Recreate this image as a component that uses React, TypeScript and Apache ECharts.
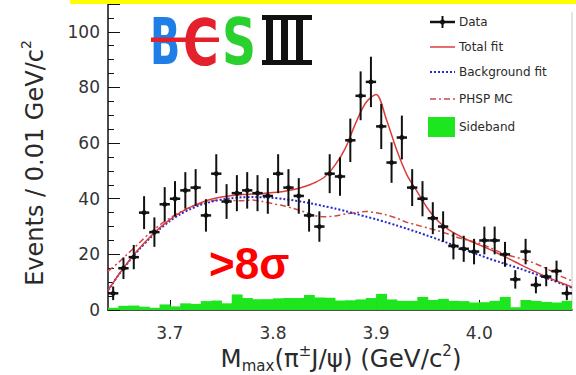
import React, { useEffect, useRef } from "react";
import * as echarts from "echarts";

// ---- data ----
const binLow = 3.64;
const binWidth = 0.01;
const xMin = 3.64;
const xMax = 4.09;
const xTickValues = [3.7, 3.8, 3.9, 4.0];

// Data events per 0.01 GeV bin (bin centres 3.645 ... 4.085)
const dataCounts = [
  6, 15, 19, 35, 28, 38, 40, 43, 44, 34,
  49, 39, 42, 43, 42, 41, 49, 44, 41, 34,
  30, 49, 48, 61, 77, 82, 66, 53, 62, 44,
  40, 33, 30, 23, 22, 21, 25, 25, 20, 11,
  21, 9, 12, 14, 6,
];

// Sideband histogram (same binning)
const sidebandCounts = [
  0.8, 1.5, 1.6, 1.2, 0.8, 2.0, 1.3, 2.4, 2.2, 3.2,
  3.4, 2.4, 5.6, 4.3, 3.9, 3.9, 4.2, 4.3, 4.3, 5.4,
  4.5, 4.4, 3.4, 3.5, 3.8, 4.3, 5.8, 3.8, 3.3, 3.3,
  4.7, 3.6, 4.0, 3.3, 3.2, 2.7, 2.8, 3.3, 4.7, 1.0,
  3.6, 3.3, 2.9, 2.7, 3.3,
];

// Curves sampled at these masses
const fitX = [
  3.64, 3.65, 3.66, 3.67, 3.68, 3.69, 3.70, 3.71, 3.72, 3.73,
  3.74, 3.75, 3.76, 3.77, 3.78, 3.79, 3.80, 3.81, 3.82, 3.83,
  3.84, 3.85, 3.86, 3.87, 3.88, 3.89, 3.90, 3.91, 3.92, 3.93,
  3.94, 3.95, 3.96, 3.97, 3.98, 3.99, 4.00, 4.01, 4.02, 4.03,
  4.04, 4.05, 4.06, 4.07, 4.08, 4.09,
];
const totalFit = [
  7, 12.5, 17.5, 22, 26, 29.5, 32.5, 35, 37, 38.6,
  39.8, 40.6, 41.2, 41.5, 41.7, 41.9, 42.2, 42.6, 43.3, 44.3,
  45.7, 47.8, 52, 58, 67, 74.5, 77.5, 68.5, 57.5, 48.5,
  42.5, 36.5, 32, 29, 26.8, 25, 23.4, 21.8, 20, 18.2,
  16.3, 14.5, 12.8, 11.2, 9.7, 8.3,
];
const backgroundFit = [
  7, 12.5, 17.3, 21.7, 25.6, 29, 32, 34.4, 36.3, 37.8,
  38.9, 39.7, 40.2, 40.5, 40.6, 40.5, 40.3, 39.9, 39.4, 38.8,
  38.1, 37.3, 36.5, 35.6, 34.6, 33.6, 32.6, 31.5, 30.4, 29.2,
  28, 26.7, 25.4, 24, 22.6, 21.2, 19.8, 18.4, 17.2, 16,
  14.8, 13.5, 12.2, 10.8, 9.4, 8,
];
const phspMC = [
  14, 17, 20.5, 24, 27.5, 30.5, 33, 35.2, 37, 38.3,
  39.2, 39.6, 39.4, 39.3, 39.5, 39, 38.2, 37.5, 36.5, 35.3,
  34, 33.5, 33.8, 34.5, 35, 35.4, 35, 34.2, 33, 31.5,
  30.5, 29.5, 28.5, 27.3, 26, 25, 24, 22.5, 20.8, 19.5,
  18.5, 17.3, 15.8, 14, 12, 10.5,
];

const legendLabels = ["Data", "Total fit", "Background fit", "PHSP MC", "Sideband"];

const COL_FIT = "#dc3c3c";
const COL_BKG = "#2a2acc";
const COL_PHSP = "#d04848";
const COL_SB = "#1ee61e";
const COL_TXT = "#2a2a2a";
const FONT = "DejaVu Sans";

export default function App() {
  const ref = useRef<HTMLDivElement>(null);

  useEffect(() => {
    if (!ref.current) return;
    const chart = echarts.init(ref.current, null, { renderer: "svg" });

    const sbData = sidebandCounts.map((v, i) => [
      binLow + i * binWidth,
      binLow + (i + 1) * binWidth,
      v,
    ]);
    const ptData = dataCounts.map((v, i) => [
      binLow + (i + 0.5) * binWidth,
      v,
      Math.sqrt(v),
    ]);
    const pairs = (ys: number[]) => fitX.map((x, i) => [x, ys[i]]);

    const legendX = 430;
    const legendYs = [22, 47, 72, 99, 127];

    const graphic: any[] = [
      // yellow strip at the top
      { type: "rect", shape: { x: 70, y: 0, width: 506, height: 4 }, style: { fill: "#ffff00" }, z: 100 },
      // right frame
      { type: "line", shape: { x1: 572, y1: 12, x2: 572, y2: 310 }, style: { stroke: "#c8c8c8", lineWidth: 1 } },
      // logo
      { type: "text", x: 150, y: 42, scaleX: 0.62, style: { text: "B", fill: "#1f7fe6", font: `bold 64px ${FONT}`, textAlign: "left", textVerticalAlign: "middle" } },
      { type: "text", x: 183, y: 42, scaleX: 0.76, style: { text: "C", fill: "#e3202c", font: `bold 64px ${FONT}`, textAlign: "left", textVerticalAlign: "middle" } },
      { type: "rect", shape: { x: 151, y: 37.5, width: 68, height: 4.5 }, style: { fill: "#e3202c" } },
      { type: "text", x: 222, y: 42, scaleX: 0.74, style: { text: "S", fill: "#2ad12e", font: `bold 64px ${FONT}`, textAlign: "left", textVerticalAlign: "middle" } },
      { type: "rect", shape: { x: 262, y: 15, width: 50, height: 5 }, style: { fill: "#111" } },
      { type: "rect", shape: { x: 262, y: 60, width: 50, height: 5 }, style: { fill: "#111" } },
      { type: "rect", shape: { x: 266, y: 15, width: 7, height: 50 }, style: { fill: "#111" } },
      { type: "rect", shape: { x: 281, y: 15, width: 7, height: 50 }, style: { fill: "#111" } },
      { type: "rect", shape: { x: 296, y: 15, width: 7, height: 50 }, style: { fill: "#111" } },
      // >8σ
      { type: "text", x: 209, y: 263, style: { text: ">8σ", fill: "#ff0000", font: `bold 44px 'Liberation Sans'`, textAlign: "left", textVerticalAlign: "middle" } },
      // axis titles
      {
        type: "text", x: 33, y: 163, rotation: Math.PI / 2,
        style: {
          text: "{a|Events / 0.01 GeV/c}{s|2}",
          textAlign: "center", textVerticalAlign: "middle",
          rich: {
            a: { fontFamily: FONT, fontSize: 24, fill: COL_TXT, lineHeight: 28, verticalAlign: "bottom" },
            s: { fontFamily: FONT, fontSize: 14, fill: COL_TXT, lineHeight: 28, verticalAlign: "top" },
          },
        },
      },
      {
        type: "text", x: 341, y: 358,
        style: {
          text: "{a|M}{b|max}{a|(π}{s|±}{a|J/ψ) (GeV/c}{s|2}{a|)}",
          textAlign: "center", textVerticalAlign: "middle",
          rich: {
            a: { fontFamily: FONT, fontSize: 24.5, fill: COL_TXT, lineHeight: 30, verticalAlign: "middle" },
            b: { fontFamily: FONT, fontSize: 15, fill: COL_TXT, lineHeight: 30, verticalAlign: "bottom" },
            s: { fontFamily: FONT, fontSize: 15, fill: COL_TXT, lineHeight: 30, verticalAlign: "top" },
          },
        },
      },
      // legend
      { type: "line", shape: { x1: legendX, y1: legendYs[0], x2: legendX + 25, y2: legendYs[0] }, style: { stroke: "#111", lineWidth: 2.5 } },
      { type: "line", shape: { x1: legendX + 12.5, y1: legendYs[0] - 6, x2: legendX + 12.5, y2: legendYs[0] + 6 }, style: { stroke: "#111", lineWidth: 2 } },
      { type: "circle", shape: { cx: legendX + 12.5, cy: legendYs[0], r: 2.5 }, style: { fill: "#111" } },
      { type: "line", shape: { x1: legendX, y1: legendYs[1], x2: legendX + 25, y2: legendYs[1] }, style: { stroke: COL_FIT, lineWidth: 1.5 } },
      { type: "line", shape: { x1: legendX, y1: legendYs[2], x2: legendX + 25, y2: legendYs[2] }, style: { stroke: COL_BKG, lineWidth: 2, lineDash: [2, 2] } },
      { type: "line", shape: { x1: legendX, y1: legendYs[3], x2: legendX + 25, y2: legendYs[3] }, style: { stroke: COL_PHSP, lineWidth: 1.5, lineDash: [6, 3, 2, 3] } },
      { type: "rect", shape: { x: legendX - 2, y: legendYs[4] - 10, width: 27, height: 20 }, style: { fill: COL_SB } },
      ...legendLabels.map((t, i) => ({
        type: "text", x: 459, y: legendYs[i],
        style: { text: t, fill: COL_TXT, font: `12px ${FONT}`, textAlign: "left", textVerticalAlign: "middle" },
      })),
    ];

    chart.setOption({
      animation: false,
      textStyle: { fontFamily: FONT },
      grid: { left: 108, right: 4, top: 4, bottom: 65, containLabel: false },
      xAxis: {
        type: "value",
        min: xMin,
        max: xMax,
        axisLine: { show: true, onZero: false, lineStyle: { color: "#111", width: 1.5 } },
        axisTick: { show: true, inside: true, length: 10, customValues: xTickValues, lineStyle: { color: "#111" } },
        axisLabel: {
          customValues: xTickValues,
          formatter: (v: number) => v.toFixed(1),
          fontSize: 17, color: "#333", margin: 14, fontFamily: FONT,
        },
        splitLine: { show: false },
      },
      yAxis: {
        type: "value",
        min: 0,
        max: 110,
        interval: 20,
        axisLine: { show: true, lineStyle: { color: "#111", width: 1.5 } },
        axisTick: { show: true, inside: true, length: 12, lineStyle: { color: "#111" } },
        minorTick: { show: true, splitNumber: 4, length: 6, lineStyle: { color: "#111" } },
        axisLabel: { fontSize: 17, color: "#333", margin: 8, showMaxLabel: false, fontFamily: FONT },
        splitLine: { show: false },
      },
      series: [
        {
          name: "Sideband",
          type: "custom",
          z: 1,
          clip: true,
          data: sbData,
          encode: { x: [0, 1], y: 2 },
          renderItem: (_p: any, api: any) => {
            const a = api.coord([api.value(0), api.value(2)]);
            const b = api.coord([api.value(1), 0]);
            return {
              type: "rect",
              shape: { x: a[0], y: a[1], width: b[0] - a[0] + 0.6, height: b[1] - a[1] },
              style: { fill: COL_SB },
            };
          },
        },
        {
          name: "PHSP MC", type: "line", z: 2, data: pairs(phspMC), smooth: 0.3, symbol: "none",
          lineStyle: { color: COL_PHSP, width: 1.5, type: [6, 3, 2, 3] },
        },
        {
          name: "Background fit", type: "line", z: 3, data: pairs(backgroundFit), smooth: 0.3, symbol: "none",
          lineStyle: { color: COL_BKG, width: 2, type: [2, 2] },
        },
        {
          name: "Total fit", type: "line", z: 4, data: pairs(totalFit), smooth: 0.3, symbol: "none",
          lineStyle: { color: COL_FIT, width: 1.5 },
        },
        {
          name: "Data",
          type: "custom",
          z: 5,
          data: ptData,
          encode: { x: 0, y: 1 },
          renderItem: (_p: any, api: any) => {
            const x = api.value(0), y = api.value(1), e = api.value(2);
            const c = api.coord([x, y]);
            const t = api.coord([x, y + e]);
            const bt = api.coord([x, Math.max(0, y - e)]);
            const l = api.coord([x - binWidth / 2, y]);
            const r = api.coord([x + binWidth / 2, y]);
            return {
              type: "group",
              children: [
                { type: "line", shape: { x1: c[0], y1: t[1], x2: c[0], y2: bt[1] }, style: { stroke: "#111", lineWidth: 2 } },
                { type: "line", shape: { x1: l[0], y1: c[1], x2: r[0], y2: c[1] }, style: { stroke: "#111", lineWidth: 2.5 } },
                { type: "circle", shape: { cx: c[0], cy: c[1], r: 2.5 }, style: { fill: "#111" } },
              ],
            };
          },
        },
      ],
      graphic,
    });

    return () => chart.dispose();
  }, []);

  return (
    <div
      ref={ref}
      style={{ position: "absolute", left: 0, top: 0, width: 576, height: 375, background: "#fff" }}
    />
  );
}
